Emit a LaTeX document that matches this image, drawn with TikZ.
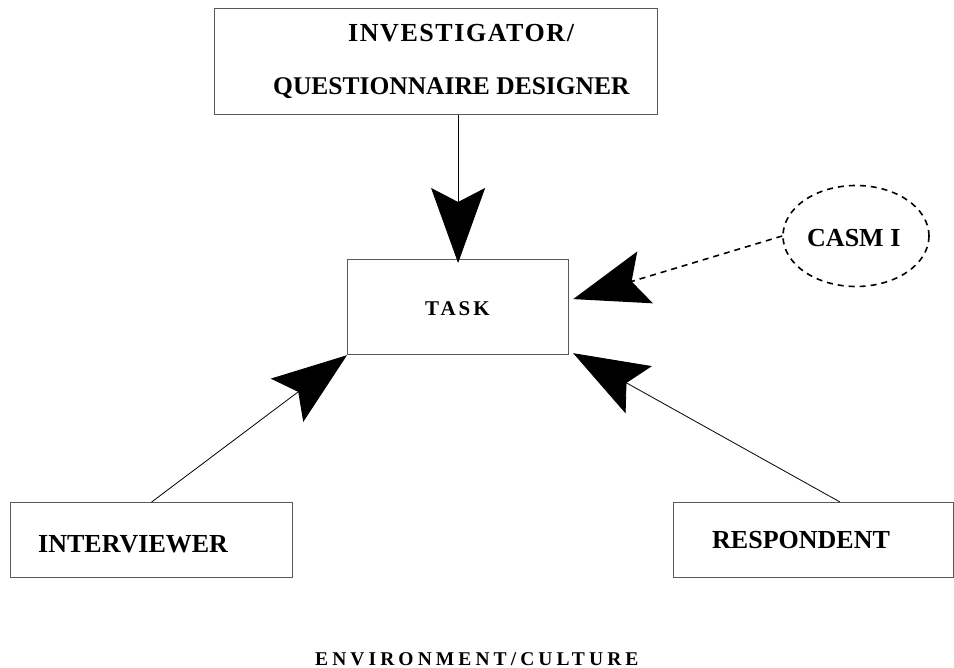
\documentclass[tikz,border=0pt]{standalone}
\usepackage{fontspec}
\setmainfont{Liberation Serif}
\newfontfamily\taskfont[LetterSpace=14]{Liberation Serif}
\newfontfamily\envfont[LetterSpace=21]{Liberation Serif}
\newfontfamily\headfont[LetterSpace=6]{Liberation Serif}
\usetikzlibrary{arrows.meta,calc,shapes.geometric}

\begin{document}
\begin{tikzpicture}[x=1pt,y=-1pt,
  box/.style={draw=black!65, line width=1.2pt, rectangle, inner sep=0pt, anchor=north west},
  lbl/.style={anchor=base west, inner sep=0pt, font=\fontsize{26}{30}\selectfont\bfseries},
  bigtip/.style={-{Stealth[length=75pt,width=54pt,inset=14pt,fill=black]}},
  link/.style={bigtip, draw=black, line width=0.8pt},
  dashlink/.style={bigtip, draw=black, line width=1.6pt, dash pattern=on 6pt off 5pt},
]
\useasboundingbox (0,0) rectangle (954,668);

% boxes
\node[box, minimum width=443pt, minimum height=106pt] (inv) at (214,8) {};
\node[box, minimum width=221pt, minimum height=95pt] (task) at (347,259) {};
\node[box, minimum width=282pt, minimum height=75pt] (intv) at (10,502) {};
\node[box, minimum width=280pt, minimum height=75pt] (resp) at (673,502) {};
\node[ellipse, draw=black, line width=1.6pt, dash pattern=on 6pt off 5pt,
      minimum width=146pt, minimum height=101pt, inner sep=0pt] (casm) at (856,236) {};

% labels
\node[lbl, font=\fontsize{26}{30}\selectfont\headfont\bfseries] (invA) at (348,42) {INVESTIGATOR/};
\node[lbl, font=\fontsize{25.5}{30}\selectfont\bfseries] (invB) at (273,95) {QUESTIONNAIRE DESIGNER};
\node[anchor=base west, inner sep=0pt, font=\fontsize{21}{24}\selectfont\taskfont\bfseries] (taskt) at (425,316) {TASK};
\node[lbl] (intvt) at (38,552) {INTERVIEWER};
\node[lbl] (respt) at (712,548) {RESPONDENT};
\node[lbl] (casmt) at (807,247) {CASM I};
\node[anchor=base west, inner sep=0pt, font=\fontsize{19.5}{22}\selectfont\envfont\bfseries] (env) at (315,665) {ENVIRONMENT/CULTURE};

% connector end points
\coordinate (invfoot) at (task.north |- inv.south);
\coordinate (tasktop) at ($(task.north)+(0,4)$);
\coordinate (casmtip) at ($(task.east)+(4,-8)$);
\coordinate (resptip) at ($(task.south east)+(4,-2)$);
\coordinate (respfoot) at ($(resp.north west)+(167,0)$);

% connectors
\draw[link] (invfoot) -- (tasktop);
\draw[link] (intv.north) -- (task.south west);
\draw[link] (respfoot) -- (resptip);
\draw[dashlink] (casm.west) -- (casmtip);
\end{tikzpicture}
\end{document}
